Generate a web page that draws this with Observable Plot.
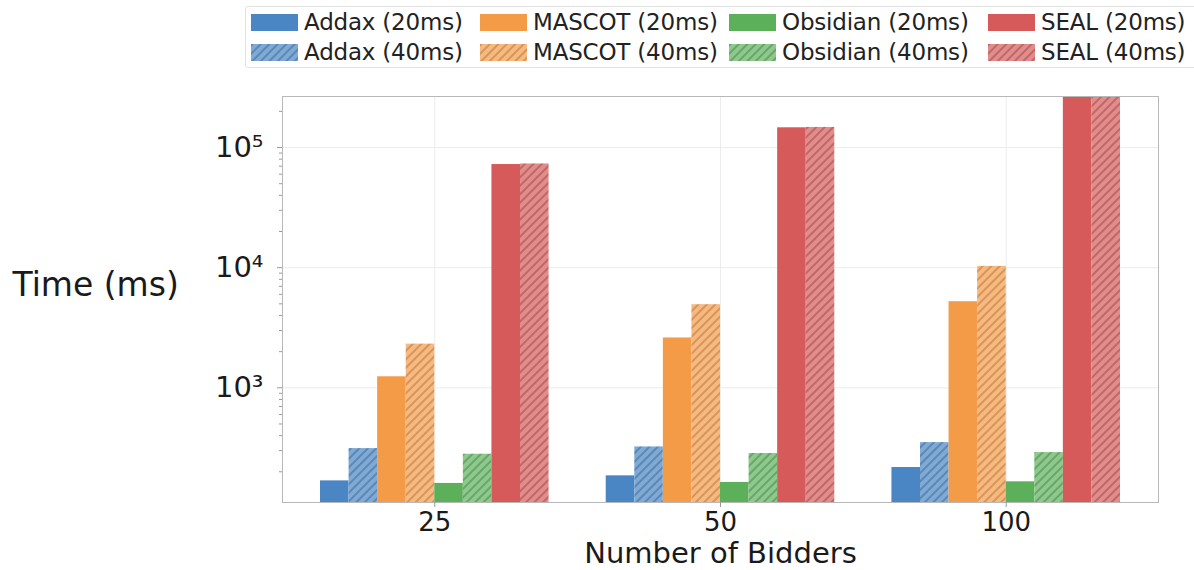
<!DOCTYPE html>
<html><head><meta charset="utf-8">
<script src="https://cdn.jsdelivr.net/npm/d3@7"></script>
<script src="https://cdn.jsdelivr.net/npm/@observablehq/plot@0.6"></script>
<style>
body{margin:0;background:#fff;font-family:"DejaVu Sans",sans-serif;width:1194px;height:570px;overflow:hidden;position:relative}
#legend{position:absolute;left:245px;top:6px;width:970px;height:62px;border:1px solid #e2e2e2;border-radius:3px;box-sizing:border-box;padding-left:5px;display:grid;grid-template-columns:229px 249px 259px auto;grid-template-rows:30px 30px}
.item{display:flex;align-items:center;font-size:23px;color:#222;white-space:nowrap;letter-spacing:-0.2px}
.item svg{margin-right:6px;flex:none}
#chart{position:absolute;left:0;top:68px}
</style></head><body>
<svg width="0" height="0" style="position:absolute"><defs id="defs"></defs></svg>
<div id="legend"></div><div id="chart"></div>
<script>
// categories
const bidders = ["25", "50", "100"];
const systems = ["Addax", "MASCOT", "Obsidian", "SEAL"];
const latencies = ["20ms", "40ms"];
const systemColors = ["#4a86c4", "#f49b48", "#5cb05a", "#d65a5a"];
// series values (ms), one per bidder count
const addax20 = [168, 185, 217];
const addax40 = [312, 322, 350];
const mascot20 = [1235, 2600, 5210];
const mascot40 = [2310, 4920, 10250];
const obsidian20 = [160, 163, 165];
const obsidian40 = [280, 284, 289];
const seal20 = [72200, 146000, 290000];
const seal40 = [73000, 147000, 290000];
// axis ticks
const majorTicks = [1e3, 1e4, 1e5];
const minorTicks = [200,300,400,500,600,700,800,900,2000,3000,4000,5000,6000,7000,8000,9000,20000,30000,40000,50000,60000,70000,80000,90000,200000];
const yDomain = [111, 266000];

const valueSets = [[addax20, addax40], [mascot20, mascot40], [obsidian20, obsidian40], [seal20, seal40]];

// hatch patterns
const defs = d3.select("#defs");
systemColors.forEach((c, i) => {
  const light = d3.interpolateRgb(c, "#ffffff")(0.3);
  const dark = d3.color(c).darker(0.9);
  const p = defs.append("pattern").attr("id", "hatch-" + i).attr("patternUnits", "userSpaceOnUse")
    .attr("width", 6).attr("height", 6).attr("patternTransform", "rotate(45)");
  p.append("rect").attr("width", 6).attr("height", 6).attr("fill", light);
  p.append("line").attr("x1", 1).attr("y1", 0).attr("x2", 1).attr("y2", 6)
    .attr("stroke", dark).attr("stroke-width", 1.3).attr("stroke-opacity", 0.75);
});

const series = [];
systems.forEach((s, i) => latencies.forEach((l, j) => {
  series.push({name: `${s} (${l})`, values: valueSets[i][j], fill: j === 0 ? systemColors[i] : `url(#hatch-${i})`, lat: j});
}));

// legend
const legend = d3.select("#legend");
latencies.forEach((l, j) => {
  series.filter(s => s.lat === j).forEach(s => {
    const it = legend.append("div").attr("class", "item");
    it.append("svg").attr("width", 47).attr("height", 17).append("rect")
      .attr("width", 47).attr("height", 17).attr("fill", s.fill);
    it.append("span").text(s.name);
  });
});

const rows = [];
bidders.forEach((b, gi) => series.forEach((s, si) => rows.push({gi, si, name: s.name, value: s.values[gi], fill: s.fill})));
const barW = 0.1;
const sup = {"0":"⁰","1":"¹","2":"²","3":"³","4":"⁴","5":"⁵","6":"⁶","7":"⁷","8":"⁸","9":"⁹"};

const chart = Plot.plot({
  width: 1194, height: 502,
  marginLeft: 282, marginRight: 36, marginTop: 28, marginBottom: 68,
  style: {fontFamily: "DejaVu Sans", fontSize: "28px", color: "#1a1a1a", background: "transparent"},
  x: {domain: [-0.533, 2.533], label: null},
  y: {type: "log", domain: yDomain, label: null},
  color: {type: "identity"},
  marks: [
    Plot.gridY(majorTicks, {stroke: "#ececec", strokeOpacity: 1}),
    Plot.gridX(bidders.map((b, i) => i), {stroke: "#ececec", strokeOpacity: 1}),
    Plot.rect(rows, {
      x1: d => d.gi + (d.si - 4) * barW,
      x2: d => d.gi + (d.si - 3) * barW,
      y1: yDomain[0], y2: "value", fill: "fill", clip: true
    }),
    Plot.frame({stroke: "#b8b8b8"}),
    Plot.axisY(minorTicks, {tickSize: 3, tickFormat: () => "", stroke: "#9a9a9a"}),
    Plot.axisY(majorTicks, {tickSize: 5, tickPadding: 14, stroke: "#9a9a9a", fontSize: 29,
      tickFormat: d => "10" + String(Math.round(Math.log10(d))).split("").map(c => sup[c]).join("")}),
    Plot.axisX(bidders.map((b, i) => i), {tickSize: 5, tickPadding: 5, stroke: "#9a9a9a", fontSize: 26,
      tickFormat: i => bidders[i]}),
    Plot.text(["Number of Bidders"], {frameAnchor: "bottom", dy: 60, fontSize: 29, fill: "#1a1a1a"}),
    Plot.text(["Time (ms)"], {frameAnchor: "left", dx: -270, dy: -14, textAnchor: "start", fontSize: 33, fill: "#1a1a1a"})
  ]
});
document.getElementById("chart").appendChild(chart);
</script>
</body></html>
